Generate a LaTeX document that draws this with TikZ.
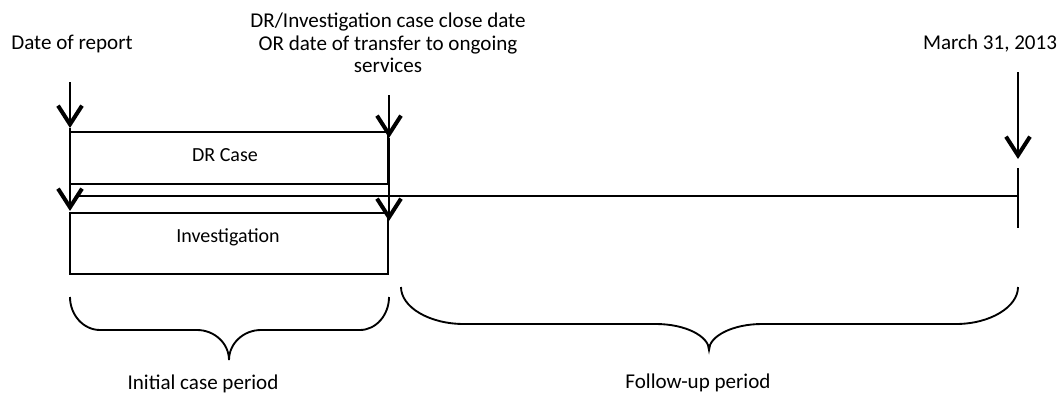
\documentclass[tikz,border=0pt]{standalone}
\usepackage{fontspec}
\setmainfont{Carlito}
\usetikzlibrary{arrows.meta}
\begin{document}
\begin{tikzpicture}[x=0.75pt,y=-0.75pt,
  box/.style={draw,line width=1pt,minimum width=238.5pt,inner sep=0pt},
  downarrow/.style={line width=1.6pt,-{Straight Barb[length=14pt,width=18pt,line width=3pt]}},
  timeline/.style={line width=0.9pt},
  bracepath/.style={line width=1.4pt},
  toplabel/.style={font=\fontsize{15.8}{16.9}\selectfont,align=center,inner sep=0pt},
  boxlabel/.style={font=\fontsize{15}{16}\selectfont,inner sep=0pt}]
\useasboundingbox (0,0) rectangle (1060,396);

% boxes
\node[box,minimum height=39pt] (dr) at (229,158) {};
\node[box,minimum height=45.75pt] (inv) at (229,243.5) {};
\node[boxlabel] (drl) at (225,155) {DR Case};
\node[boxlabel] (invl) at (228,237) {Investigation};

% coordinates
\coordinate (l0) at (70,82);
\coordinate (l1) at (70,128);
\coordinate (l2) at (70,211);
\coordinate (m0) at (389,95);
\coordinate (m1) at (389,138);
\coordinate (m2) at (389,221);
\coordinate (r0) at (1018,72);
\coordinate (r1) at (1018,159);
\coordinate (t0) at (1018,168);
\coordinate (t1) at (1018,228);
\coordinate (h0) at (77,196);
\coordinate (h1) at (1018,196);

% timeline
\draw[timeline] (h0) -- (h1);
\draw[line width=1.3pt] (t0) -- (t1);

% arrows
\draw[downarrow] (l0) -- (l1);
\draw[downarrow] (l1) -- (l2);
\draw[downarrow] (m0) -- (m1);
\draw[downarrow] (m1) -- (m2);
\draw[downarrow] (r0) -- (r1);

% labels
\node[toplabel] (rep) at (72,44) {Date of report};
\node[toplabel] (close) at (388,43) {DR/Investigation case close date\\OR date of transfer to ongoing\\services};
\node[toplabel] (march) at (990,44) {March 31, 2013};

% braces
\draw[bracepath] (70,297) .. controls (70,315) and (83.5,330) .. (100,330)
  -- (197,330) .. controls (214.6,330) and (229,343.5) .. (229,360)
  .. controls (229,343.5) and (243.4,330) .. (261,330)
  -- (360,330) .. controls (376,330) and (389,315) .. (389,297);
\draw[bracepath] (401,287) .. controls (401,307) and (429,324) .. (464,324)
  -- (656,324) .. controls (685,324) and (709,336) .. (709,350)
  .. controls (709,336) and (733,324) .. (762,324)
  -- (956,324) .. controls (990,324) and (1018,307) .. (1018,287);

\node[toplabel] (initl) at (203,384) {Initial case period};
\node[toplabel] (folll) at (698,383) {Follow-up period};
\end{tikzpicture}
\end{document}
